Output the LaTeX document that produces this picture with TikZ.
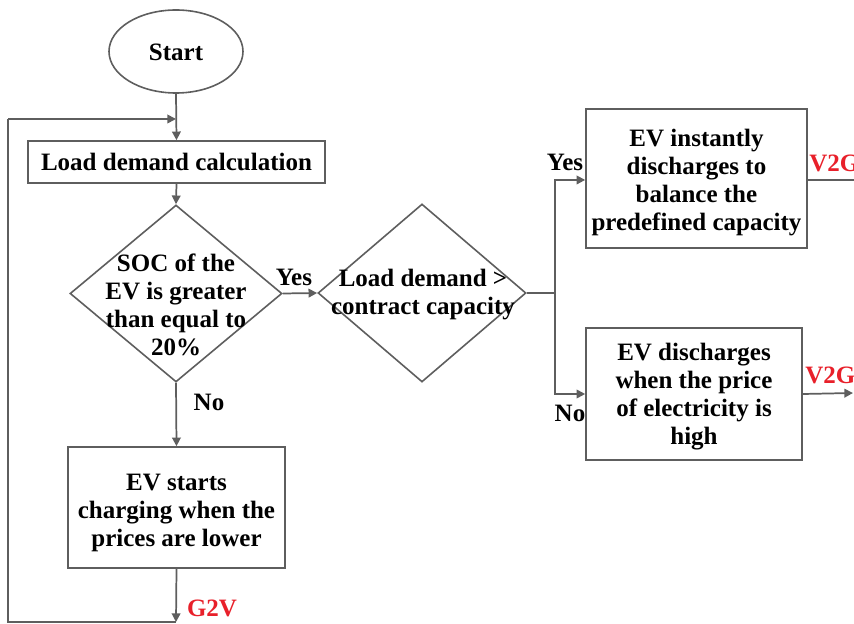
\documentclass[tikz,border=0pt]{standalone}
\usepackage{fontspec}
\setmainfont{Liberation Serif}
\usetikzlibrary{shapes.geometric,arrows.meta}
\definecolor{lc}{HTML}{5E5E5E}
\definecolor{rl}{HTML}{E8202A}
\tikzset{
  every node/.style={font=\fontsize{18.75}{21}\selectfont\bfseries, inner sep=0pt},
  boxn/.style={draw=lc, line width=1.2pt, rectangle, align=center},
  ellipn/.style={draw=lc, line width=1.2pt, ellipse},
  dian/.style={draw=lc, line width=1.2pt, diamond},
  txt/.style={align=center},
  conn/.style={draw=lc, line width=1.3pt},
  arr/.style={conn, -{Triangle[length=6.5pt,width=6.5pt]}},
  lbl/.style={text=black},
  rlbl/.style={text=rl}
}
\begin{document}
\begin{tikzpicture}[x=0.75pt,y=-0.75pt]
\useasboundingbox (0,0) rectangle (854,624);
% shapes
\node[ellipn, minimum width=100.5pt, minimum height=62.25pt] (start) at (176,51.5) {};
\node[boxn, minimum width=222.75pt, minimum height=31.5pt] (load) at (176.5,162) {};
\node[dian, minimum width=159pt, minimum height=132.75pt] (d1) at (176,293.5) {};
\node[dian, minimum width=156pt, minimum height=133.5pt] (d2) at (422,293) {};
\node[boxn, minimum width=165.75pt, minimum height=104.25pt] (b1) at (696.5,178.5) {};
\node[boxn, minimum width=162pt, minimum height=99pt] (b2) at (694,394) {};
\node[boxn, minimum width=162.75pt, minimum height=90.75pt] (b3) at (176.5,507.5) {};
% texts
\node[txt] (startt) at (176,52.5) {Start};
\node[txt] (loadt) at (176.5,162) {Load demand calculation};
\node[txt] (d1t) at (176,305) {SOC of the\\EV is greater\\than equal to\\20\%};
\node[txt] (d2t) at (423,294.5) {Load demand >\\contract capacity};
\node[txt] (b1t) at (696.5,182.5) {EV instantly\\discharges to\\balance the\\predefined capacity};
\node[txt] (b2t) at (694,397) {EV discharges\\when the price\\of electricity is\\high};
\node[txt] (b3t) at (176.5,512.5) {EV starts\\charging when the\\prices are lower};
% coordinates
\coordinate (split) at (555,293);
\coordinate (bot) at (176,622);
\coordinate (botl) at (8,622);
\coordinate (topl) at (8,119);
\coordinate (join) at (176,119);
\coordinate (o1) at (856,180);
\coordinate (o2) at (853,393);
% connectors
\draw[arr] (start.south) -- (load.north);
\draw[arr] (load.south) -- (d1.north);
\draw[arr] (d1.east) -- (d2.west);
\draw[conn] (d2.east) -- (split);
\draw[arr] (split) |- ([yshift=-1.1pt]b1.west);
\draw[arr] (split) |- (b2.west);
\draw[arr] (d1.south) -- (b3.north);
\draw[arr] (b3.south) -- (bot);
\draw[conn] (bot) -- (botl) -- (topl);
\draw[arr] (topl) -- (join);
\draw[conn] ([yshift=-1.1pt]b1.east) -- (o1);
\draw[arr] (b2.east) -- (o2);
% labels
\node[lbl] (ly1) at (294,277) {Yes};
\node[lbl] (ln1) at (209,402) {No};
\node[lbl] (ly2) at (565,162) {Yes};
\node[lbl] (ln2) at (570,413) {No};
\node[rlbl, anchor=west] (v1) at (809,163) {V2G};
\node[rlbl, anchor=west] (v2) at (805,375) {V2G};
\node[rlbl] (g1) at (212,608) {G2V};
\end{tikzpicture}
\end{document}
